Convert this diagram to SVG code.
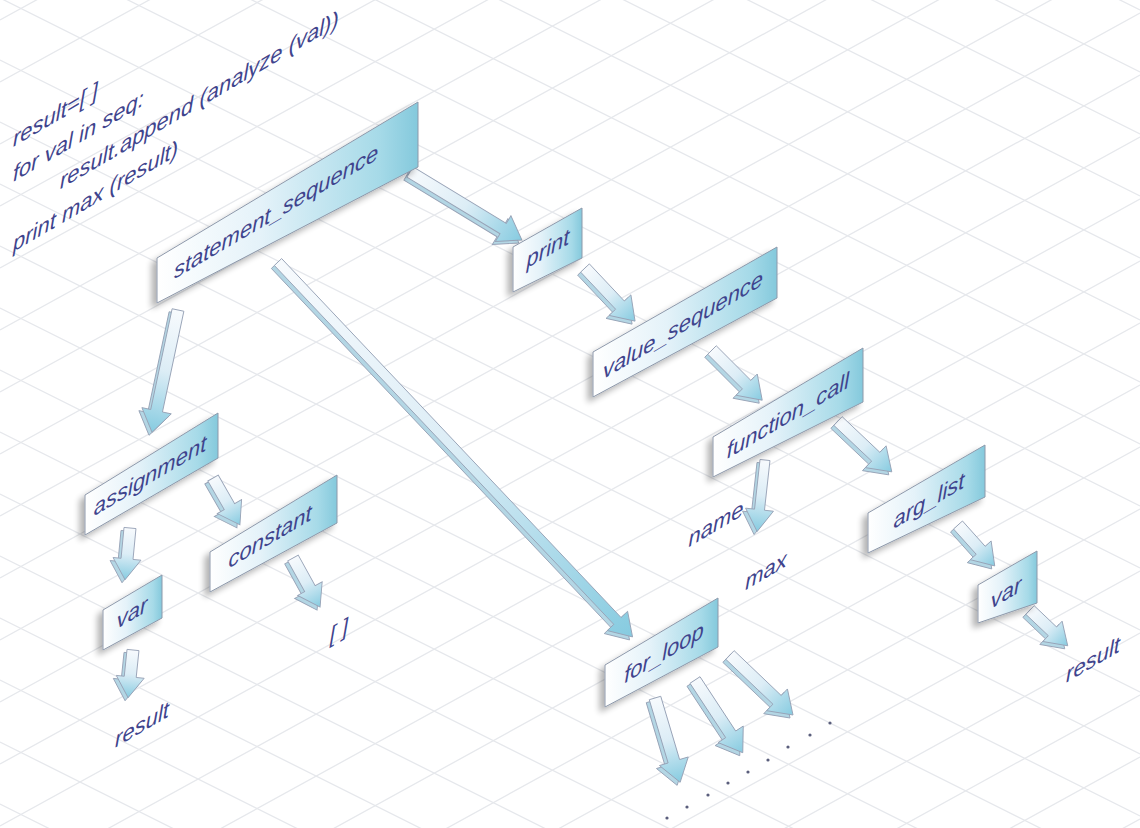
<svg xmlns="http://www.w3.org/2000/svg" width="1140" height="828" viewBox="0 0 1140 828">
<defs>
<style>
.grid{stroke:#e6e8ec;stroke-width:1.3;fill:none}
.box{fill:url(#boxg);stroke:#8e99ab;stroke-width:1;filter:url(#sh)}
.lbl{font-family:"Liberation Sans",Arial,sans-serif;font-style:italic;font-size:22px;fill:#3f448d}
.mid{text-anchor:middle}
.dot{fill:#5a5e7c}
</style>
<linearGradient id="boxg" x1="0" y1="0" x2="1" y2="0">
<stop offset="0" stop-color="#ffffff"/>
<stop offset="0.4" stop-color="#e4f2f9"/>
<stop offset="0.85" stop-color="#a6dae8"/>
<stop offset="1" stop-color="#84c9dc"/>
</linearGradient>
<linearGradient id="arrg" x1="0" y1="0" x2="1" y2="0">
<stop offset="0" stop-color="#f7fafd"/>
<stop offset="0.5" stop-color="#dcedf6"/>
<stop offset="1" stop-color="#86cbe0"/>
</linearGradient>
<filter id="sh" x="-20%" y="-20%" width="140%" height="140%">
<feGaussianBlur in="SourceAlpha" stdDeviation="3"/>
<feOffset dx="-5" dy="5"/>
<feComponentTransfer><feFuncA type="linear" slope="0.3"/></feComponentTransfer>
<feMerge><feMergeNode/><feMergeNode in="SourceGraphic"/></feMerge>
</filter>
</defs>
<rect width="1140" height="828" fill="#ffffff"/>
<g id="grid" class="grid">
<path d="M0 20L1140 -607M0 82L1140 -545M0 144L1140 -483M0 206L1140 -421M0 268L1140 -359M0 330L1140 -297M0 392L1140 -235M0 454L1140 -173M0 516L1140 -111M0 578L1140 -49M0 640L1140 13M0 702L1140 75M0 764L1140 137M0 826L1140 199M0 888L1140 261M0 950L1140 323M0 1012L1140 385M0 1074L1140 447M0 1136L1140 509M0 1198L1140 571M0 1260L1140 633M0 1322L1140 695M0 1384L1140 757M0 1446L1140 819"/>
<path d="M0 -560L1140 10M0 -498L1140 72M0 -436L1140 134M0 -374L1140 196M0 -312L1140 258M0 -250L1140 320M0 -188L1140 382M0 -126L1140 444M0 -64L1140 506M0 -2L1140 568M0 60L1140 630M0 122L1140 692M0 184L1140 754M0 246L1140 816M0 308L1140 878M0 370L1140 940M0 432L1140 1002M0 494L1140 1064M0 556L1140 1126M0 618L1140 1188M0 680L1140 1250M0 742L1140 1312M0 804L1140 1374"/>
</g>
<g id="code" class="lbl" transform="translate(13,147) skewY(-30.5)">
<text x="0" y="0">result=[ ]</text>
<text x="0" y="35">for val in seq:</text>
<text x="47" y="70">result.append (analyze (val))</text>
<text x="0" y="105">print max (result)</text>
</g>
<g id="connectors">
<g id="arrow-sides" fill="#b3d6e4" stroke="#97a2b6" stroke-width="0.9">
<use href="#a1" x="-3" y="3"/><use href="#a2" x="-3" y="3"/><use href="#a3" x="-3" y="3"/><use href="#a4" x="-3" y="3"/>
<use href="#a5" x="-3" y="3"/><use href="#a6" x="-3" y="3"/><use href="#a7" x="-3" y="3"/><use href="#a8" x="-3" y="3"/>
<use href="#a9" x="-3" y="3"/><use href="#a10" x="-3" y="3"/><use href="#a11" x="-3" y="3"/><use href="#a12" x="-3" y="3"/>
<use href="#a13" x="-3" y="3"/><use href="#a14" x="-3" y="3"/><use href="#a15" x="-3" y="3"/><use href="#a16" x="-3" y="3"/>
</g>
<g id="arrow-faces" fill="url(#arrg)" stroke="#97a2b6" stroke-width="0.9">
<polygon id="a1" transform="translate(410,172) rotate(31.3)" points="0,-6 109,-6 109,-15 131,0 109,15 109,6 0,6"/>
<polygon id="a2" transform="translate(178,310) rotate(102)" points="0,-6 103,-6 103,-15 125,0 103,15 103,6 0,6"/>
<polygon id="a3" transform="translate(278,262) rotate(46.6)" points="0,-5 494,-5 494,-14 516,0 494,14 494,5 0,5"/>
<polygon id="a4" transform="translate(585,268) rotate(46.7)" points="0,-6 51,-6 51,-15 73,0 51,15 51,6 0,6"/>
<polygon id="a5" transform="translate(712,350) rotate(45)" points="0,-6 49,-6 49,-15 71,0 49,15 49,6 0,6"/>
<polygon id="a6" transform="translate(765,460) rotate(96.3)" points="0,-5 50,-5 50,-14 72,0 50,14 50,5 0,5"/>
<polygon id="a7" transform="translate(838,421) rotate(43.4)" points="0,-6 52,-6 52,-15 74,0 52,15 52,6 0,6"/>
<polygon id="a8" transform="translate(958,525) rotate(48.1)" points="0,-6 34,-6 34,-14 55,0 34,14 34,6 0,6"/>
<polygon id="a9" transform="translate(1030,610) rotate(43.5)" points="0,-6 31,-6 31,-14 52,0 31,14 31,6 0,6"/>
<polygon id="a10" transform="translate(213,478) rotate(60.1)" points="0,-6 33,-6 33,-14 54,0 33,14 33,6 0,6"/>
<polygon id="a11" transform="translate(130,528) rotate(95.5)" points="0,-6 31,-6 31,-14 52,0 31,14 31,6 0,6"/>
<polygon id="a12" transform="translate(133,650) rotate(95.9)" points="0,-6 27,-6 27,-14 48,0 27,14 27,6 0,6"/>
<polygon id="a13" transform="translate(293,558) rotate(61.1)" points="0,-6 35,-6 35,-14 56,0 35,14 35,6 0,6"/>
<polygon id="a14" transform="translate(655,698) rotate(73.4)" points="0,-6 66,-6 66,-15 88,0 66,15 66,6 0,6"/>
<polygon id="a15" transform="translate(695,680) rotate(56.7)" points="0,-6 65,-6 65,-15 87,0 65,15 65,6 0,6"/>
<polygon id="a16" transform="translate(730,655) rotate(43.6)" points="0,-6 65,-6 65,-15 87,0 65,15 65,6 0,6"/>
</g>
</g>
<g id="node-statement_sequence">
<polygon class="box" points="157,258 418,102 418,167 157,303"/>
<text class="lbl mid" transform="translate(276,219) skewY(-30.5)">statement_sequence</text>
</g>
<g id="node-print">
<polygon class="box" points="513,247 582,208 582,258 513,292"/>
<text class="lbl mid" transform="translate(548,256) skewY(-30.5)">print</text>
</g>
<g id="node-value_sequence">
<polygon class="box" points="593,352 777,247 777,298 593,397"/>
<text class="lbl mid" transform="translate(683,332) skewY(-30.5)">value_sequence</text>
</g>
<g id="node-function_call">
<polygon class="box" points="713,437 863,348 863,402 713,477"/>
<text class="lbl mid" transform="translate(788,423) skewY(-30.5)">function_call</text>
</g>
<g id="node-arg_list">
<polygon class="box" points="868,513 985,445 985,497 868,553"/>
<text class="lbl mid" transform="translate(929,508) skewY(-30.5)">arg_list</text>
</g>
<g id="node-var-right">
<polygon class="box" points="978,585 1037,551 1037,603 978,623"/>
<text class="lbl mid" transform="translate(1006,600) skewY(-30.5)">var</text>
</g>
<g id="node-assignment">
<polygon class="box" points="85,495 218,413 218,458 85,535"/>
<text class="lbl mid" transform="translate(150,483) skewY(-30.5)">assignment</text>
</g>
<g id="node-constant">
<polygon class="box" points="210,552 337,475 337,523 210,592"/>
<text class="lbl mid" transform="translate(270,544) skewY(-30.5)">constant</text>
</g>
<g id="node-var-left">
<polygon class="box" points="103,610 162,575 162,618 103,650"/>
<text class="lbl mid" transform="translate(132,620) skewY(-30.5)">var</text>
</g>
<g id="node-for_loop">
<polygon class="box" points="605,665 718,598 718,647 605,707"/>
<text class="lbl mid" transform="translate(664,660) skewY(-30.5)">for_loop</text>
</g>
<g id="leaf-labels" class="lbl mid">
<text transform="translate(142,732) skewY(-30.5)">result</text>
<text transform="translate(339,638) skewY(-30.5)">[ ]</text>
<text transform="translate(716,531) skewY(-30.5)">name</text>
<text transform="translate(766,578) skewY(-30.5)">max</text>
<text transform="translate(1093,667) skewY(-30.5)">result</text>
</g>
<g id="dots">
<circle class="dot" cx="667" cy="818" r="1.6"/>
<circle class="dot" cx="687" cy="807" r="1.6"/>
<circle class="dot" cx="708" cy="795" r="1.6"/>
<circle class="dot" cx="728" cy="783" r="1.6"/>
<circle class="dot" cx="748" cy="772" r="1.6"/>
<circle class="dot" cx="768" cy="760" r="1.6"/>
<circle class="dot" cx="788" cy="747" r="1.6"/>
<circle class="dot" cx="810" cy="735" r="1.6"/>
<circle class="dot" cx="830" cy="723" r="1.6"/>
</g>
</svg>
